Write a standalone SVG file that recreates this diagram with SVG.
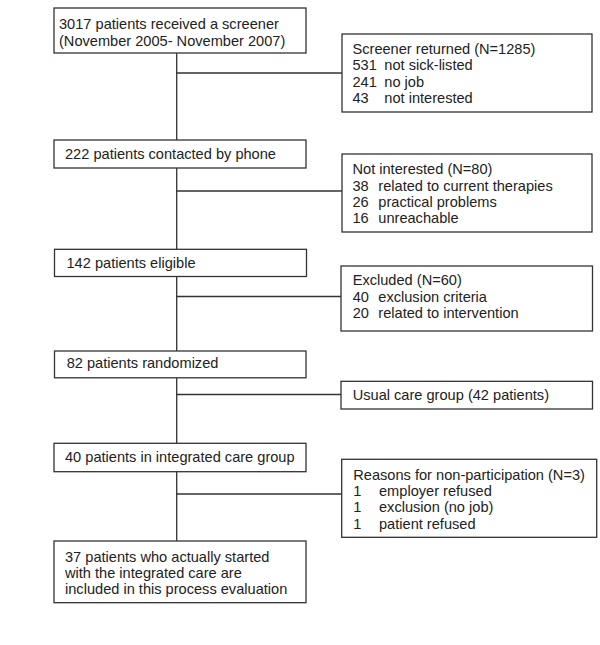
<svg xmlns="http://www.w3.org/2000/svg" width="600" height="645" viewBox="0 0 600 645">
<style>
.box{fill:#fff;stroke:#333;stroke-width:1.3}
.c{fill:none;stroke:#333;stroke-width:1.3}
text{font-family:"Liberation Sans",Arial,sans-serif;font-size:14.6px;fill:#222}
</style>
<rect width="600" height="645" fill="#fff"/>
<g id="connectors">
<path class="c" d="M176.7 53V140M176.7 168V249.3M176.7 276.5V351M176.7 377.5V443.3M176.7 471.7V541"/>
<path class="c" d="M176.7 73H342M176.7 191H342M176.7 296.5H341M176.7 394.5H341M176.7 494H341.7"/>
</g>
<g id="n1">
<rect class="box" x="54" y="8" width="252" height="45"/>
<text x="59" y="28.5">3017 patients received a screener</text>
<text x="59" y="45.5">(November 2005- November 2007)</text>
</g>
<g id="n2">
<rect class="box" x="342" y="34" width="250" height="78"/>
<text x="352.5" y="53.5">Screener returned (N=1285)</text>
<text y="70"><tspan x="352.5">531</tspan><tspan x="384.3">not sick-listed</tspan></text>
<text y="86.5"><tspan x="352.5">241</tspan><tspan x="384.3">no job</tspan></text>
<text y="103"><tspan x="352.5">43</tspan><tspan x="384.3">not interested</tspan></text>
</g>
<g id="n3">
<rect class="box" x="54" y="140" width="252" height="28"/>
<text x="65" y="159.3">222 patients contacted by phone</text>
</g>
<g id="n4">
<rect class="box" x="342" y="154" width="250" height="78"/>
<text x="352.5" y="174.3">Not interested (N=80)</text>
<text y="190.5"><tspan x="352.5">38</tspan><tspan x="378.3">related to current therapies</tspan></text>
<text y="206.7"><tspan x="352.5">26</tspan><tspan x="378.3">practical problems</tspan></text>
<text y="223"><tspan x="352.5">16</tspan><tspan x="378.3">unreachable</tspan></text>
</g>
<g id="n5">
<rect class="box" x="54.5" y="249.3" width="252" height="27.2"/>
<text x="66.5" y="268">142 patients eligible</text>
</g>
<g id="n6">
<rect class="box" x="341" y="266" width="251.5" height="65"/>
<text x="352.7" y="285">Excluded (N=60)</text>
<text y="301.5"><tspan x="352.7">40</tspan><tspan x="378.3">exclusion criteria</tspan></text>
<text y="318"><tspan x="352.7">20</tspan><tspan x="378.3">related to intervention</tspan></text>
</g>
<g id="n7">
<rect class="box" x="54.5" y="351" width="251.5" height="26.8"/>
<text x="66.7" y="368.3">82 patients randomized</text>
</g>
<g id="n8">
<rect class="box" x="341" y="381.3" width="251.5" height="27.7"/>
<text x="352.7" y="400">Usual care group (42 patients)</text>
</g>
<g id="n9">
<rect class="box" x="54" y="443.3" width="252" height="28.4"/>
<text x="65" y="461.7">40 patients in integrated care group</text>
</g>
<g id="n10">
<rect class="box" x="341.7" y="459.3" width="255" height="78"/>
<text x="353.3" y="479.5">Reasons for non-participation (N=3)</text>
<text y="496"><tspan x="353.3">1</tspan><tspan x="379">employer refused</tspan></text>
<text y="512"><tspan x="353.3">1</tspan><tspan x="379">exclusion (no job)</tspan></text>
<text y="528.5"><tspan x="353.3">1</tspan><tspan x="379">patient refused</tspan></text>
</g>
<g id="n11">
<rect class="box" x="54" y="541" width="252" height="61.7"/>
<text x="65" y="561.7">37 patients who actually started</text>
<text x="65" y="577.7">with the integrated care are</text>
<text x="65" y="593.7">included in this process evaluation</text>
</g>
</svg>
